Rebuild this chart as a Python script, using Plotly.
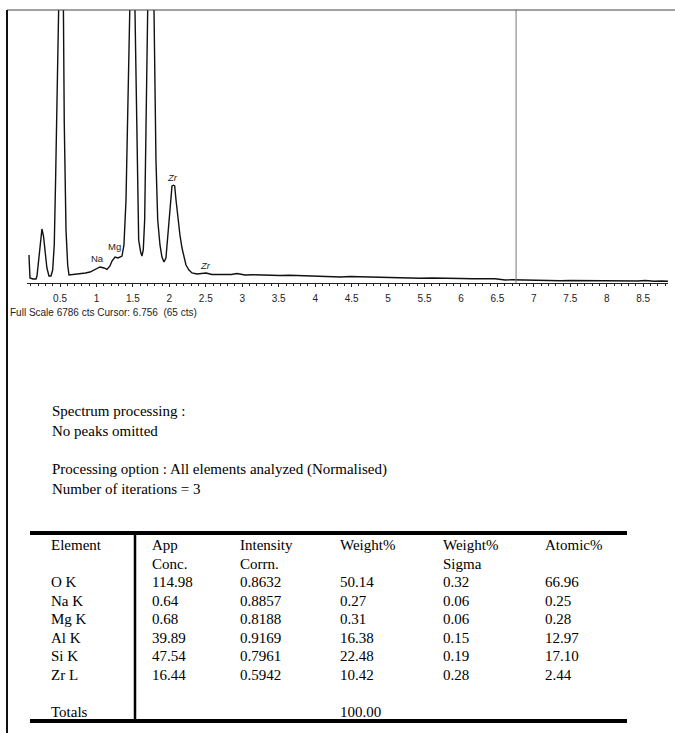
import plotly.graph_objects as go

W, H = 675, 733

# ---------------- data ----------------
energy_kev = [0.074, 0.088, 0.129, 0.170, 0.184, 0.211, 0.235, 0.252, 0.273, 0.294,
              0.320, 0.348, 0.376, 0.399, 0.421, 0.440, 0.462, 0.481, 0.515, 0.547,
              0.558, 0.582, 0.605, 0.623, 0.700, 0.774, 0.850, 0.911, 1.007, 1.048,
              1.103, 1.144, 1.185, 1.213, 1.254, 1.295, 1.350, 1.377, 1.405, 1.432,
              1.455, 1.490, 1.528, 1.535, 1.556, 1.579, 1.606, 1.624, 1.642, 1.661,
              1.679, 1.693, 1.740, 1.789, 1.798, 1.816, 1.840, 1.871, 1.898, 1.926,
              1.953, 1.981, 2.008, 2.036, 2.055, 2.073, 2.091, 2.118, 2.145, 2.173,
              2.200, 2.228, 2.269, 2.310, 2.379, 2.440, 2.502, 2.584, 2.680, 2.763,
              2.850, 2.927, 2.980, 3.037, 3.150, 3.243, 3.300, 3.400, 3.517, 3.650,
              3.791, 3.950, 4.066, 4.150, 4.244, 4.350, 4.477, 4.600, 4.700, 4.820,
              4.950, 5.026, 5.200, 5.300, 5.438, 5.600, 5.700, 5.850, 6.000, 6.150,
              6.261, 6.400, 6.467, 6.560, 6.606, 6.700, 6.814, 6.950, 7.088, 7.200,
              7.362, 7.500, 7.700, 7.911, 8.050, 8.185, 8.300, 8.420, 8.528, 8.650,
              8.750, 8.840]
counts = [696, 124, 99, 99, 174, 622, 945, 1342, 1168, 820,
          373, 174, 174, 323, 945, 2635, 4549, 6800, 14500, 6800,
          4002, 1318, 447, 199, 212, 224, 248, 273, 348, 398,
          373, 336, 423, 547, 646, 622, 671, 945, 2063, 4549,
          6800, 9800, 6800, 5800, 3058, 1069, 771, 671, 820, 1566,
          3804, 6800, 11500, 6800, 5544, 3058, 1566, 945, 646, 522,
          622, 1193, 1939, 2411, 2430, 2411, 2063, 1566, 1193, 870,
          646, 447, 323, 249, 224, 236, 249, 211, 205, 199,
          211, 236, 211, 199, 205, 199, 211, 192, 186, 192,
          186, 174, 162, 155, 149, 149, 162, 155, 149, 142,
          149, 137, 130, 124, 117, 124, 117, 112, 112, 105,
          99, 105, 107, 87, 75, 80, 75, 82, 67, 72,
          57, 64, 60, 62, 52, 50, 58, 48, 62, 45,
          50, 42]

full_scale_cts = 6786
cursor_kev = 6.756
cursor_cts = 65

tick_kev = [0.5, 1, 1.5, 2, 2.5, 3, 3.5, 4, 4.5, 5, 5.5, 6, 6.5, 7, 7.5, 8, 8.5]
tick_text = ["0.5", "1", "1.5", "2", "2.5", "3", "3.5", "4", "4.5", "5", "5.5",
             "6", "6.5", "7", "7.5", "8", "8.5"]

peak_labels = ["Na", "Mg", "<i>Zr</i>", "<i>Zr</i>"]
peak_label_kev = [1.02, 1.25, 2.04, 2.49]
peak_label_cts = [620, 900, 2630, 440]

info_lines = ["Spectrum processing :", "No peaks omitted", "",
              "Processing option : All elements analyzed (Normalised)",
              "Number of iterations = 3"]

header_1 = ["Element", "App", "Intensity", "Weight%", "Weight%", "Atomic%"]
header_2 = ["", "Conc.", "Corrn.", "", "Sigma", ""]
elements = ["O K", "Na K", "Mg K", "Al K", "Si K", "Zr L"]
app_conc = [114.98, 0.64, 0.68, 39.89, 47.54, 16.44]
intensity_corrn = [0.8632, 0.8857, 0.8188, 0.9169, 0.7961, 0.5942]
weight_pct = [50.14, 0.27, 0.31, 16.38, 22.48, 10.42]
weight_sigma = [0.32, 0.06, 0.06, 0.15, 0.19, 0.28]
atomic_pct = [66.96, 0.25, 0.28, 12.97, 17.10, 2.44]
total_weight = 100.00

# ---------------- layout helpers ----------------
def px(x):
    return x / W

def py(y):
    return 1 - y / H

SANS = "Liberation Sans, Arial, sans-serif"
SERIF = "Liberation Serif, Times New Roman, serif"

fig = go.Figure()
fig.add_trace(go.Scatter(x=energy_kev, y=counts, mode="lines",
                         line=dict(color="#111", width=1.4),
                         hoverinfo="skip", showlegend=False))

x_left, x_right = 27, 668
y_top, y_base = 10, 283
kev_per_px = 1 / 72.9
x0 = 0.047
fig.update_layout(
    width=W, height=H, margin=dict(l=0, r=0, t=0, b=0),
    paper_bgcolor="white", plot_bgcolor="white", showlegend=False,
    xaxis=dict(domain=[px(x_left), px(x_right)],
               range=[x0, x0 + (x_right - x_left) * kev_per_px],
               showgrid=False, zeroline=False, showline=True, linecolor="#222",
               linewidth=1, ticks="outside", ticklen=3, tickcolor="#222",
               tickmode="array", tickvals=tick_kev, ticktext=tick_text,
               tickangle=0, ticklabelstandoff=3,
               tickfont=dict(family=SANS, size=10, color="#222"),
               minor=dict(dtick=0.1, tick0=0, ticks="outside", ticklen=2,
                          tickcolor="#222"),
               fixedrange=True),
    yaxis=dict(domain=[py(y_base), py(y_top)], range=[0, full_scale_cts],
               visible=False, fixedrange=True),
)

shapes = []
# cursor
shapes.append(dict(type="line", xref="x", yref="y", x0=cursor_kev, x1=cursor_kev,
                   y0=0, y1=full_scale_cts, line=dict(color="#777", width=1)))
# frame
shapes.append(dict(type="line", xref="paper", yref="paper", x0=px(7), x1=1,
                   y0=py(10), y1=py(10), line=dict(color="#444", width=1)))
shapes.append(dict(type="line", xref="paper", yref="paper", x0=px(7), x1=px(7),
                   y0=0, y1=py(10), line=dict(color="#111", width=2)))
# table rules
t_left, t_right, t_top, t_bot, t_div = 30, 627, 533, 721, 135
shapes.append(dict(type="line", xref="paper", yref="paper", x0=px(t_left), x1=px(t_right),
                   y0=py(t_top), y1=py(t_top), line=dict(color="black", width=4)))
shapes.append(dict(type="line", xref="paper", yref="paper", x0=px(t_left), x1=px(t_right),
                   y0=py(t_bot), y1=py(t_bot), line=dict(color="black", width=4)))
shapes.append(dict(type="line", xref="paper", yref="paper", x0=px(t_div), x1=px(t_div),
                   y0=py(t_top), y1=py(t_bot), line=dict(color="black", width=2.5)))
fig.update_layout(shapes=shapes)

ann = []
for lab, xk, yc in zip(peak_labels, peak_label_kev, peak_label_cts):
    ann.append(dict(x=xk, y=yc, xref="x", yref="y", text=lab, showarrow=False,
                    font=dict(family=SANS, size=9.5, color="#222"),
                    xanchor="center", yanchor="middle"))

ann.append(dict(x=px(8), y=py(312), xref="paper", yref="paper",
                text=f"Full Scale {full_scale_cts} cts Cursor: {cursor_kev:.3f}\u00a0 ({cursor_cts} cts)",
                showarrow=False, xanchor="left", yanchor="middle",
                font=dict(family=SANS, size=10, color="#222")))

info_y = [411, 431, 450, 469, 489]
for line, yy in zip(info_lines, info_y):
    if line:
        ann.append(dict(x=px(50), y=py(yy), xref="paper", yref="paper", text=line,
                        showarrow=False, xanchor="left", yanchor="middle",
                        font=dict(family=SERIF, size=15, color="black")))

col_x = [49, 150, 238, 338, 441, 543]
row_y_h1, row_y_h2 = 545, 563.5
row_y = [582, 600.5, 619, 637.5, 656, 674.5]
row_y_tot = 711.5

def cell(text, x, y):
    if text == "":
        return
    ann.append(dict(x=px(x), y=py(y), xref="paper", yref="paper", text=text,
                    showarrow=False, xanchor="left", yanchor="middle",
                    font=dict(family=SERIF, size=15, color="black")))

for i, h in enumerate(header_1):
    cell(h, col_x[i], row_y_h1)
for i, h in enumerate(header_2):
    cell(h, col_x[i], row_y_h2)
for r in range(len(elements)):
    vals = [elements[r], f"{app_conc[r]:.2f}", f"{intensity_corrn[r]:.4f}",
            f"{weight_pct[r]:.2f}", f"{weight_sigma[r]:.2f}", f"{atomic_pct[r]:.2f}"]
    for i, v in enumerate(vals):
        cell(v, col_x[i], row_y[r])
cell("Totals", col_x[0], row_y_tot)
cell(f"{total_weight:.2f}", col_x[3], row_y_tot)

fig.update_layout(annotations=ann)
fig.write_html("out.html", config={"displayModeBar": False})
